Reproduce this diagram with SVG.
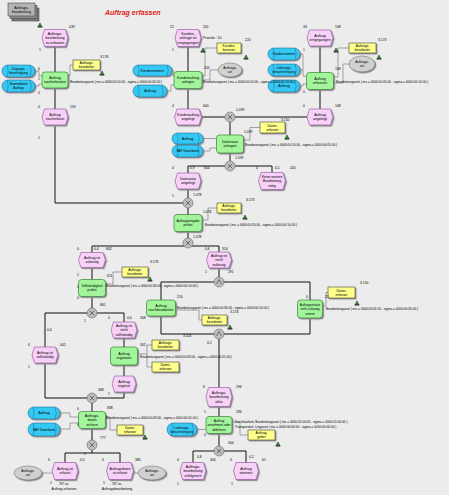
<svg xmlns="http://www.w3.org/2000/svg" xmlns:xlink="http://www.w3.org/1999/xlink" width="449" height="495" viewBox="0 0 449 495">
<style>
.ev{fill:#F7D1F7;stroke:#9A5FA8;stroke-width:0.7;filter:url(#sh)}
.fn{fill:#A2F59A;stroke:#3E7F3E;stroke-width:0.7;filter:url(#sh)}
.bl{fill:#35C8F2;stroke:#1B6FA0;stroke-width:0.6;filter:url(#sh)}
.bll{fill:none;stroke:#1B6FA0;stroke-width:0.5}
.ye{fill:#FFFF8C;stroke:#222;stroke-width:0.5;filter:url(#sh)}
.el{fill:#D0D0D0;stroke:#666;stroke-width:0.5;filter:url(#sh)}
.cn{fill:#BEBEBE;stroke:#666;stroke-width:0.6}
.cs{fill:none;stroke:#333;stroke-width:0.6}
.fl{fill:none;stroke:#111;stroke-width:1}
.as{fill:none;stroke:#555;stroke-width:0.5}
text{font-family:"Liberation Sans",Arial,sans-serif;fill:#000}
.t{font-size:3.6px;text-anchor:middle}
.n{font-size:3.4px}
.tm{font-size:3.2px}
.ttl{font-size:7px;font-weight:bold;font-style:italic;fill:#E02020}
</style>
<defs>
<filter id="sh" x="-20%" y="-20%" width="150%" height="150%"><feDropShadow dx="1.2" dy="1.2" stdDeviation="0.3" flood-color="#8a8a8a"/></filter>
<g id="ic"><path d="M-2,1.6 L0,-2 L2,1.6 Z" fill="#2E9A2E" stroke="#000" stroke-width="0.4"/><rect x="-2.4" y="1.6" width="4.8" height="0.8" fill="#000"/></g>
</defs>
<rect width="449" height="495" fill="#ECECEC"/>
<text class="ttl" x="105" y="15">Auftrag erfassen</text>

<g id="pi_auftragsbearbeitung">
<rect x="12" y="8" width="27" height="13" fill="#7d7d7d" stroke="#333" stroke-width="0.5"/>
<rect x="10" y="5.5" width="27" height="13" fill="#8f8f8f" stroke="#333" stroke-width="0.5"/>
<rect x="8" y="3" width="27" height="13" fill="#b4b4b4" stroke="#333" stroke-width="0.5"/>
<text class="t"><tspan x="21.5" y="8.6">Auftrags-</tspan><tspan x="21.5" y="12.9">bearbeitung</tspan></text>
</g>

<g id="connectors">
<path class="fl" d="M55,46.5V72 M55,88V109 M55,125V203H183"/>
<path class="fl" d="M188,46.5V71.5 M188,88.5V109 M201.5,117H225 M307,117H235"/>
<path class="fl" d="M320,46V72.5 M320,89.5V109"/>
<path class="fl" d="M230,122V135 M230,153V161 M225,166H188V173 M235,166H272V172.5"/>
<path class="fl" d="M188,189V198 M188,208V214.5 M188,231.5V239"/>
<path class="fl" d="M92,252.5V246H219V252"/>
<path class="fl" d="M92,267.5V279.5 M92,296.5V308 M45,347V313H124V322"/>
<path class="fl" d="M124,338V347 M124,365V376 M124,392V398H97 M45,363V398H87"/>
<path class="fl" d="M92,403V411.5 M92,428.5V440 M92,450V453 M65,462.5V453H120V462.5"/>
<path class="fl" d="M219,268V277 M161,300V282H310V300 M161,316V334H310V318 M219,339V387.5"/>
<path class="fl" d="M219,406.5V416.5 M219,433.5V446 M193,462.5V451H246V462.5"/>
<path class="as" d="M35,71H39V76H42 M35,86H39V84H42 M68,76H70V65H73"/>
<path class="as" d="M172,70.5H173V76H174 M167,91H171V85H174 M202,76H205V48H217 M202,80H210V70H218"/>
<path class="as" d="M300,54H303V76H306.5 M300,70H303 M300,86H303V84H306.5 M333.5,77H338V48H349 M333.5,83H343V64H349"/>
<path class="as" d="M203,138.5H216.5 M203,151H210V148H216.5 M243.5,140H250V127.5H260 M202,220H208V208H217"/>
<path class="as" d="M105.5,284H113V272H122 M175.5,310H199V320H202 M322.5,306H326V292.5H328"/>
<path class="as" d="M137.5,354H147V345H152 M147,354V367H152 M105.5,417H110V430H117 M60,413H70V417H78.5 M60,429H70V423H78.5"/>
<path class="as" d="M197,429.5H206 M232,422H240V435H248 M42,473H52 M138,473H133.5"/>
</g>

<g id="e1" transform="translate(55,38)"><path class="ev" d="M-10.5,-8.5H10.5L13,0L10.5,8.5H-10.5L-13,0Z"/><text class="t"><tspan x="0" y="-3">Auftrags-</tspan><tspan x="0" y="1.3">bearbeitung</tspan><tspan x="0" y="5.6">zu erfassen</tspan></text></g>
<g id="e2" transform="translate(55,117)"><path class="ev" d="M-10.5,-8H10.5L13,0L10.5,8H-10.5L-13,0Z"/><text class="t"><tspan x="0" y="-0.85">Auftrag</tspan><tspan x="0" y="3.45">nacherfasst</tspan></text></g>
<g id="e3" transform="translate(188,38)"><path class="ev" d="M-10.5,-8.5H10.5L13,0L10.5,8.5H-10.5L-13,0Z"/><text class="t"><tspan x="0" y="-3">Kunden-</tspan><tspan x="0" y="1.3">anfrage ist</tspan><tspan x="0" y="5.6">eingegangen</tspan></text></g>
<g id="e4" transform="translate(188,117)"><path class="ev" d="M-11,-8H11L13.5,0L11,8H-11L-13.5,0Z"/><text class="t" style="font-size:3.4px"><tspan x="0" y="-0.85">Kundenauftrag</tspan><tspan x="0" y="3.45">angelegt</tspan></text></g>
<g id="e5" transform="translate(320,38)"><path class="ev" d="M-10.5,-8H10.5L13,0L10.5,8H-10.5L-13,0Z"/><text class="t"><tspan x="0" y="-0.85">Auftrag</tspan><tspan x="0" y="3.45">eingegangen</tspan></text></g>
<g id="e6" transform="translate(320,117)"><path class="ev" d="M-10.5,-8H10.5L13,0L10.5,8H-10.5L-13,0Z"/><text class="t"><tspan x="0" y="-0.85">Auftrag</tspan><tspan x="0" y="3.45">angelegt</tspan></text></g>
<g id="e7" transform="translate(188,181)"><path class="ev" d="M-10.5,-8H10.5L13,0L10.5,8H-10.5L-13,0Z"/><text class="t"><tspan x="0" y="-0.85">Datensatz</tspan><tspan x="0" y="3.45">angelegt</tspan></text></g>
<g id="e8" transform="translate(272,181)"><path class="ev" d="M-11,-8.5H11L13.5,0L11,8.5H-11L-13.5,0Z"/><text class="t" style="font-size:3.4px"><tspan x="0" y="-3">Keine weitere</tspan><tspan x="0" y="1.3">Bearbeitung</tspan><tspan x="0" y="5.6">nötig</tspan></text></g>
<g id="e9" transform="translate(92,260)"><path class="ev" d="M-11,-7.5H11L13.5,0L11,7.5H-11L-13.5,0Z"/><text class="t"><tspan x="0" y="-0.85">Auftrag ist</tspan><tspan x="0" y="3.45">zulässig</tspan></text></g>
<g id="e10" transform="translate(219,260)"><path class="ev" d="M-10,-8H10L12.5,0L10,8H-10L-12.5,0Z"/><text class="t"><tspan x="0" y="-3">Auftrag ist</tspan><tspan x="0" y="1.3">nicht</tspan><tspan x="0" y="5.6">zulässig</tspan></text></g>
<g id="e14" transform="translate(45,355)"><path class="ev" d="M-10.5,-8H10.5L13,0L10.5,8H-10.5L-13,0Z"/><text class="t"><tspan x="0" y="-0.85">Auftrag ist</tspan><tspan x="0" y="3.45">vollständig</tspan></text></g>
<g id="e15" transform="translate(124,330)"><path class="ev" d="M-10.5,-8H10.5L13,0L10.5,8H-10.5L-13,0Z"/><text class="t"><tspan x="0" y="-3">Auftrag ist</tspan><tspan x="0" y="1.3">nicht</tspan><tspan x="0" y="5.6">vollständig</tspan></text></g>
<g id="e16" transform="translate(124,384)"><path class="ev" d="M-9.5,-8H9.5L12,0L9.5,8H-9.5L-12,0Z"/><text class="t"><tspan x="0" y="-0.85">Auftrag</tspan><tspan x="0" y="3.45">ergänzt</tspan></text></g>
<g id="e11" transform="translate(219,397)"><path class="ev" d="M-10.5,-9.5H10.5L13,0L10.5,9.5H-10.5L-13,0Z"/><text class="t"><tspan x="0" y="-3">Auftrags-</tspan><tspan x="0" y="1.3">bearbeitung</tspan><tspan x="0" y="5.6">aktiv</tspan></text></g>
<g id="e12" transform="translate(193,471)"><path class="ev" d="M-10.5,-8.5H10.5L13,0L10.5,8.5H-10.5L-13,0Z"/><text class="t"><tspan x="0" y="-3">Auftrags-</tspan><tspan x="0" y="1.3">bearbeitung</tspan><tspan x="0" y="5.6">erfolgreich</tspan></text></g>
<g id="e13" transform="translate(246,471)"><path class="ev" d="M-10,-8.5H10L12.5,0L10,8.5H-10L-12.5,0Z"/><text class="t"><tspan x="0" y="-0.85">Auftrag</tspan><tspan x="0" y="3.45">storniert</tspan></text></g>
<g id="e17" transform="translate(65,471)"><path class="ev" d="M-10.5,-8.5H10.5L13,0L10.5,8.5H-10.5L-13,0Z"/><text class="t"><tspan x="0" y="-0.85">Auftrag ist</tspan><tspan x="0" y="3.45">erfasst</tspan></text></g>
<g id="e18" transform="translate(120,471)"><path class="ev" d="M-11,-8.5H11L13.5,0L11,8.5H-11L-13.5,0Z"/><text class="t" style="font-size:3.4px"><tspan x="0" y="-0.85">Auftragsdaten</tspan><tspan x="0" y="3.45">ist erfasst</tspan></text></g>

<g id="f1" transform="translate(55,80)"><rect class="fn" x="-13" y="-8" width="26" height="16" rx="3"/><text class="t"><tspan x="0" y="-0.85">Auftrag</tspan><tspan x="0" y="3.45">nacherfassen</tspan></text></g>
<g id="f2" transform="translate(188,80)"><rect class="fn" x="-14" y="-8.5" width="28" height="17" rx="3"/><text class="t" style="font-size:3.4px"><tspan x="0" y="-0.85">Kundenauftrag</tspan><tspan x="0" y="3.45">anlegen</tspan></text></g>
<g id="f3" transform="translate(320,81)"><rect class="fn" x="-13.5" y="-8.5" width="27" height="17" rx="3"/><text class="t"><tspan x="0" y="-0.85">Auftrag</tspan><tspan x="0" y="3.45">erfassen</tspan></text></g>
<g id="f4" transform="translate(230,144)"><rect class="fn" x="-13.5" y="-9" width="27" height="18" rx="3"/><text class="t"><tspan x="0" y="-0.85">Datensatz</tspan><tspan x="0" y="3.45">anlegen</tspan></text></g>
<g id="f5" transform="translate(188,223)"><rect class="fn" x="-14" y="-8.5" width="28" height="17" rx="3"/><text class="t" style="font-size:3.2px"><tspan x="0" y="-0.85">Auftragseingabe</tspan><tspan x="0" y="3.45">prüfen</tspan></text></g>
<g id="f11" transform="translate(92,288)"><rect class="fn" x="-13.5" y="-8.5" width="27" height="17" rx="3"/><text class="t" style="font-size:3.3px"><tspan x="0" y="-0.85">Vollständigkeit</tspan><tspan x="0" y="3.45">prüfen</tspan></text></g>
<g id="f6" transform="translate(161,308)"><rect class="fn" x="-14.5" y="-8" width="29" height="16" rx="3"/><text class="t"><tspan x="0" y="-0.85">Auftrag</tspan><tspan x="0" y="3.45">nachbearbeiten</tspan></text></g>
<g id="f7" transform="translate(310,309)"><rect class="fn" x="-12.5" y="-9" width="25" height="18" rx="3"/><text class="t" style="font-size:3.2px"><tspan x="0" y="-3">Auftragsstatus</tspan><tspan x="0" y="1.3">nicht zulässig</tspan><tspan x="0" y="5.6">setzen</tspan></text></g>
<g id="f8" transform="translate(124,356)"><rect class="fn" x="-13.5" y="-9" width="27" height="18" rx="3"/><text class="t"><tspan x="0" y="-0.85">Auftrag</tspan><tspan x="0" y="3.45">ergänzen</tspan></text></g>
<g id="f10" transform="translate(92,420)"><rect class="fn" x="-13.5" y="-8.5" width="27" height="17" rx="3"/><text class="t"><tspan x="0" y="-3">Auftrags-</tspan><tspan x="0" y="1.3">daten</tspan><tspan x="0" y="5.6">sichern</tspan></text></g>
<g id="f9" transform="translate(219,425)"><rect class="fn" x="-13" y="-8.5" width="26" height="17" rx="3"/><text class="t" style="font-size:3.3px"><tspan x="0" y="-3">Auftrag</tspan><tspan x="0" y="1.3">annehmen oder</tspan><tspan x="0" y="5.6">ablehnen</tspan></text></g>

<g id="x1" transform="translate(230,117)"><circle class="cn" r="5"/><path class="cs" d="M-2.3,-2.3L2.3,2.3M2.3,-2.3L-2.3,2.3"/></g>
<g id="x2" transform="translate(230,166)"><circle class="cn" r="5"/><path class="cs" d="M-2.3,-2.3L2.3,2.3M2.3,-2.3L-2.3,2.3"/></g>
<g id="x3" transform="translate(188,203)"><circle class="cn" r="5"/><path class="cs" d="M-2.3,-2.3L2.3,2.3M2.3,-2.3L-2.3,2.3"/></g>
<g id="x4" transform="translate(188,243)"><circle class="cn" r="5"/><path class="cs" d="M-2.3,-2.3L2.3,2.3M2.3,-2.3L-2.3,2.3"/></g>
<g id="x6" transform="translate(92,313)"><circle class="cn" r="5"/><path class="cs" d="M-2.3,-2.3L2.3,2.3M2.3,-2.3L-2.3,2.3"/></g>
<g id="x7" transform="translate(92,398)"><circle class="cn" r="5"/><path class="cs" d="M-2.3,-2.3L2.3,2.3M2.3,-2.3L-2.3,2.3"/></g>
<g id="x8" transform="translate(92,445)"><circle class="cn" r="5"/><path class="cs" d="M-2.3,-2.3L2.3,2.3M2.3,-2.3L-2.3,2.3"/></g>
<g id="x5" transform="translate(219,451)"><circle class="cn" r="5"/><path class="cs" d="M-2.3,-2.3L2.3,2.3M2.3,-2.3L-2.3,2.3"/></g>
<g id="a1" transform="translate(219,282)"><circle class="cn" r="5"/><path class="cs" d="M-2.5,2L0,-2.5L2.5,2"/></g>
<g id="a2" transform="translate(219,334)"><circle class="cn" r="5"/><path class="cs" d="M-2.5,2L0,-2.5L2.5,2"/></g>

<g id="b1" transform="translate(18.5,71)"><rect class="bl" x="-16.5" y="-6" width="33" height="12" rx="6"/><path class="bll" d="M-11.5,-6Q-9,0 -11.5,6M11.5,-6Q14,0 11.5,6"/><text class="t" style="font-size:3.2px"><tspan x="0" y="-0.6">Zugangs-</tspan><tspan x="0" y="3.3">berechtigung</tspan></text></g>
<g id="b2" transform="translate(18.5,86)"><rect class="bl" x="-16.5" y="-6" width="33" height="12" rx="6"/><path class="bll" d="M-11.5,-6Q-9,0 -11.5,6M11.5,-6Q14,0 11.5,6"/><text class="t" style="font-size:3.2px"><tspan x="0" y="-0.6">Stammdaten</tspan><tspan x="0" y="3.3">Auftrag</tspan></text></g>
<g id="b3" transform="translate(152.5,70.5)"><rect class="bl" x="-19.5" y="-5.5" width="39" height="11" rx="5.5"/><path class="bll" d="M-14.5,-5.5Q-12,0 -14.5,5.5M14.5,-5.5Q17,0 14.5,5.5"/><text class="t" style="font-size:3.3px"><tspan x="0" y="1.2">Kundennummer</tspan></text></g>
<g id="b4" transform="translate(150,91)"><rect class="bl" x="-17" y="-6" width="34" height="12" rx="6"/><path class="bll" d="M-12,-6Q-9.5,0 -12,6M12,-6Q14.5,0 12,6"/><text class="t"><tspan x="0" y="1.2">Auftrag</tspan></text></g>
<g id="b5" transform="translate(284,54)"><rect class="bl" x="-16" y="-6" width="32" height="12" rx="6"/><path class="bll" d="M-11,-6Q-8.5,0 -11,6M11,-6Q13.5,0 11,6"/><text class="t" style="font-size:3.2px"><tspan x="0" y="1.2">Kundennummer</tspan></text></g>
<g id="b6" transform="translate(284,70)"><rect class="bl" x="-16" y="-6" width="32" height="12" rx="6"/><path class="bll" d="M-11,-6Q-8.5,0 -11,6M11,-6Q13.5,0 11,6"/><text class="t" style="font-size:3px"><tspan x="0" y="-0.6">Lieferungs-</tspan><tspan x="0" y="3.2">benachrichtigung</tspan></text></g>
<g id="b7" transform="translate(284,86)"><rect class="bl" x="-16" y="-6" width="32" height="12" rx="6"/><path class="bll" d="M-11,-6Q-8.5,0 -11,6M11,-6Q13.5,0 11,6"/><text class="t"><tspan x="0" y="1.2">Auftrag</tspan></text></g>
<g id="b8" transform="translate(187.5,138.5)"><rect class="bl" x="-15.5" y="-5.5" width="31" height="11" rx="5.5"/><path class="bll" d="M-10.5,-5.5Q-8,0 -10.5,5.5M10.5,-5.5Q13,0 10.5,5.5"/><text class="t"><tspan x="0" y="1.2">Auftrag</tspan></text></g>
<g id="b9" transform="translate(187.5,151)"><rect class="bl" x="-15.5" y="-6" width="31" height="12" rx="6"/><path class="bll" d="M-10.5,-6Q-8,0 -10.5,6M10.5,-6Q13,0 10.5,6"/><text class="t" style="font-size:3.2px"><tspan x="0" y="1.2">SAP Datenbank</tspan></text></g>
<g id="b10" transform="translate(182,429.5)"><rect class="bl" x="-15" y="-6.5" width="30" height="13" rx="6.5"/><path class="bll" d="M-10,-6.5Q-7.5,0 -10,6.5M10,-6.5Q12.5,0 10,6.5"/><text class="t" style="font-size:3px"><tspan x="0" y="-0.6">Lieferungs-</tspan><tspan x="0" y="3.2">benachrichtigung</tspan></text></g>
<g id="b11" transform="translate(44,413)"><rect class="bl" x="-16" y="-6" width="32" height="12" rx="6"/><path class="bll" d="M-11,-6Q-8.5,0 -11,6M11,-6Q13.5,0 11,6"/><text class="t"><tspan x="0" y="1.2">Auftrag</tspan></text></g>
<g id="b12" transform="translate(44,429.5)"><rect class="bl" x="-16" y="-6.5" width="32" height="13" rx="6.5"/><path class="bll" d="M-11,-6.5Q-8.5,0 -11,6.5M11,-6.5Q13.5,0 11,6.5"/><text class="t" style="font-size:3.2px"><tspan x="0" y="1.2">SAP Datenbank</tspan></text></g>

<g id="y1" transform="translate(86.5,65)"><rect class="ye" x="-13.5" y="-5" width="27" height="10"/><text class="t" style="font-size:3.4px"><tspan x="0" y="-0.7">Auftrags-</tspan><tspan x="0" y="3.3">bearbeiter</tspan></text></g>
<g id="y2" transform="translate(229,48)"><rect class="ye" x="-12" y="-5" width="24" height="10"/><text class="t" style="font-size:3.4px"><tspan x="0" y="-0.7">Kunden-</tspan><tspan x="0" y="3.3">betreuer</tspan></text></g>
<g id="y3" transform="translate(362.5,48)"><rect class="ye" x="-13.5" y="-5" width="27" height="10"/><text class="t" style="font-size:3.4px"><tspan x="0" y="-0.7">Auftrags-</tspan><tspan x="0" y="3.3">bearbeiter</tspan></text></g>
<g id="y4" transform="translate(272.5,127.5)"><rect class="ye" x="-12.5" y="-5.5" width="25" height="11"/><text class="t" style="font-size:3.4px"><tspan x="0" y="-0.7">Daten-</tspan><tspan x="0" y="3.3">erfasser</tspan></text></g>
<g id="y5" transform="translate(229,208)"><rect class="ye" x="-12" y="-5" width="24" height="10"/><text class="t" style="font-size:3.4px"><tspan x="0" y="-0.7">Auftrags-</tspan><tspan x="0" y="3.3">bearbeiter</tspan></text></g>
<g id="y10" transform="translate(135,272)"><rect class="ye" x="-13" y="-5" width="26" height="10"/><text class="t" style="font-size:3.4px"><tspan x="0" y="-0.7">Auftrags-</tspan><tspan x="0" y="3.3">bearbeiter</tspan></text></g>
<g id="y6" transform="translate(214.5,320)"><rect class="ye" x="-12.5" y="-5" width="25" height="10"/><text class="t" style="font-size:3.4px"><tspan x="0" y="-0.7">Auftrags-</tspan><tspan x="0" y="3.3">bearbeiter</tspan></text></g>
<g id="y7" transform="translate(341.5,292.5)"><rect class="ye" x="-13.5" y="-5.5" width="27" height="11"/><text class="t" style="font-size:3.4px"><tspan x="0" y="-0.7">Daten-</tspan><tspan x="0" y="3.3">erfasser</tspan></text></g>
<g id="y11" transform="translate(165.5,345)"><rect class="ye" x="-13.5" y="-5" width="27" height="10"/><text class="t" style="font-size:3.4px"><tspan x="0" y="-0.7">Auftrags-</tspan><tspan x="0" y="3.3">bearbeiter</tspan></text></g>
<g id="y12" transform="translate(165.5,367)"><rect class="ye" x="-13.5" y="-5" width="27" height="10"/><text class="t" style="font-size:3.4px"><tspan x="0" y="-0.7">Daten-</tspan><tspan x="0" y="3.3">erfasser</tspan></text></g>
<g id="y9" transform="translate(130,430)"><rect class="ye" x="-13" y="-5" width="26" height="10"/><text class="t" style="font-size:3.4px"><tspan x="0" y="-0.7">Daten-</tspan><tspan x="0" y="3.3">erfasser</tspan></text></g>
<g id="y8" transform="translate(261.5,435)"><rect class="ye" x="-13.5" y="-5" width="27" height="10"/><text class="t" style="font-size:3.4px"><tspan x="0" y="-0.7">Auftrag-</tspan><tspan x="0" y="3.3">geber</tspan></text></g>

<g id="g1" transform="translate(230,70)"><ellipse class="el" rx="12" ry="7"/><text class="t" style="font-size:3.4px"><tspan x="0" y="-0.7">Auftrags-</tspan><tspan x="0" y="3.3">art</tspan></text></g>
<g id="g2" transform="translate(362,64)"><ellipse class="el" rx="13" ry="8"/><text class="t" style="font-size:3.4px"><tspan x="0" y="-0.7">Auftrags-</tspan><tspan x="0" y="3.3">art</tspan></text></g>
<g id="g3" transform="translate(28,473)"><ellipse class="el" rx="14" ry="7"/><text class="t" style="font-size:3.4px"><tspan x="0" y="-0.7">Auftrags-</tspan><tspan x="0" y="3.3">art</tspan></text></g>
<g id="g4" transform="translate(152,473)"><ellipse class="el" rx="14" ry="7"/><text class="t" style="font-size:3.4px"><tspan x="0" y="-0.7">Auftrags-</tspan><tspan x="0" y="3.3">art</tspan></text></g>

<g id="icons">
<use href="#ic" x="40" y="25"/><use href="#ic" x="102" y="73"/><use href="#ic" x="203" y="50"/><use href="#ic" x="246" y="57"/>
<use href="#ic" x="336" y="50"/><use href="#ic" x="379" y="57"/><use href="#ic" x="287" y="137"/><use href="#ic" x="245" y="217"/>
<use href="#ic" x="150" y="279"/><use href="#ic" x="230" y="327"/><use href="#ic" x="357" y="303"/><use href="#ic" x="145" y="437"/><use href="#ic" x="278" y="444"/>
</g>

<g id="times" class="tm">
<text x="70" y="82.5">Bearbeitungszeit ( mu = 0000:00:10:00 , sigma = 0000:00:05:00 )</text>
<text x="203" y="82.5">Bearbeitungszeit ( mu = 0000:00:10:00 , sigma = 0000:00:10:00 )</text>
<text x="336" y="82.5">Bearbeitungszeit ( mu = 0000:00:05:00 , sigma = 0000:00:10:00 )</text>
<text x="245" y="145.5">Bearbeitungszeit ( mu = 0000:00:10:00 , sigma = 0000:00:05:00 )</text>
<text x="205" y="226">Bearbeitungszeit ( mu = 0000:00:20:00 , sigma = 0000:00:10:00 )</text>
<text x="106" y="287">Bearbeitungszeit ( mu = 0000:00:30:00 , sigma = 0000:00:10:00 )</text>
<text x="177" y="309">Bearbeitungszeit ( mu = 0000:00:30:00 , sigma = 0000:00:10:00 )</text>
<text x="326" y="310">Bearbeitungszeit ( mu = 0000:00:05:10 , sigma = 0000:00:05:00 )</text>
<text x="140" y="358">Bearbeitungszeit ( mu = 0000:00:03:00 , sigma = 0000:00:01:00 )</text>
<text x="106" y="419">Bearbeitungszeit ( mu = 0000:00:03:00 , sigma = 0000:00:01:00 )</text>
<text x="235" y="423">Durchlaufzeit, Bearbeitungszeit ( mu = 0000:05:00:00 , sigma = 0000:01:00:00 )</text>
<text x="235" y="428">Transportzeit, Liegezeit ( mu = 0000:00:00:00 , sigma = 0000:00:00:00 )</text>
</g>

<g id="labels" class="n">
<text x="69" y="28">039</text><text x="39" y="51">1</text><text x="100" y="58">3.176</text>
<text x="38" y="70">0</text><text x="38" y="80">1</text><text x="38" y="94">0</text><text x="38" y="108">0</text><text x="70" y="108">159</text><text x="38" y="139">1</text>
<text x="170" y="28">22</text><text x="203" y="28">201</text><text x="203" y="39">Priorität : 10</text><text x="245" y="41">220</text><text x="172" y="51">1</text><text x="204" y="69">205</text>
<text x="172" y="107">4</text><text x="203" y="107">600</text>
<text x="303" y="28">33</text><text x="335" y="28">108</text><text x="378" y="41">3.173</text><text x="303" y="51">1</text><text x="335" y="70">108</text><text x="303" y="93">0</text><text x="303" y="107">0</text><text x="335" y="107">108</text>
<text x="236" y="111">1.099</text><text x="281" y="121">3.150</text><text x="244" y="133">1.099</text><text x="235" y="159">1.099</text>
<text x="172" y="169">4</text><text x="190" y="169">0,9</text><text x="204" y="169">604</text><text x="256" y="169">0</text><text x="275" y="169">0,1</text><text x="290" y="169">420</text>
<text x="172" y="197">1</text><text x="193" y="196">1.078</text><text x="246" y="201">3.173</text><text x="203" y="213">1.076</text><text x="193" y="238">1.078</text>
<text x="77" y="250">0</text><text x="94" y="250">0,4</text><text x="106" y="250">842</text><text x="205" y="250">0,6</text><text x="222" y="250">314</text>
<text x="205" y="273">1</text><text x="228" y="273">291</text>
<text x="77" y="276">1</text><text x="107" y="277">611</text><text x="77" y="288">1</text><text x="77" y="299">0</text><text x="150" y="263">3.176</text>
<text x="100" y="306">861</text><text x="84" y="322">1</text><text x="47" y="331">0,4</text><text x="28" y="346">6</text><text x="60" y="346">002</text><text x="28" y="368">1</text>
<text x="108" y="319">0</text><text x="127" y="319">0,6</text><text x="140" y="319">308</text><text x="140" y="346">302</text>
<text x="177" y="298">210</text><text x="230" y="313">3.174</text><text x="360" y="284">3.150</text><text x="325" y="298">21</text><text x="306" y="298">0</text>
<text x="183" y="337">3.526</text><text x="207" y="344">0,2</text>
<text x="98" y="391">368</text><text x="108" y="395">1</text>
<text x="203" y="388">6</text><text x="236" y="388">296</text><text x="236" y="413">296</text><text x="204" y="413">1</text><text x="204" y="436">0</text>
<text x="107" y="409">838</text><text x="77" y="410">0</text><text x="77" y="426">0</text>
<text x="228" y="444">304</text><text x="177" y="461">0</text><text x="197" y="458">0,8</text><text x="210" y="461">304</text><text x="230" y="461">0</text><text x="249" y="458">0,2</text><text x="262" y="461">61</text>
<text x="100" y="439">777</text><text x="84" y="455">1</text><text x="48" y="461">6</text><text x="80" y="461">0,5</text><text x="102" y="461">0</text><text x="135" y="461">385</text>
<text x="50" y="484">1</text><text x="103" y="484">1</text><text x="177" y="485">1</text><text x="231" y="485">1</text>
</g>
<g id="notes" class="t" style="font-size:3.4px">
<text x="64" y="485">NT zu</text><text x="64" y="490">Auftrag erfassen</text>
<text x="117" y="485">NT zu</text><text x="117" y="490">Auftragsbearbeitung</text>
</g>
</svg>
